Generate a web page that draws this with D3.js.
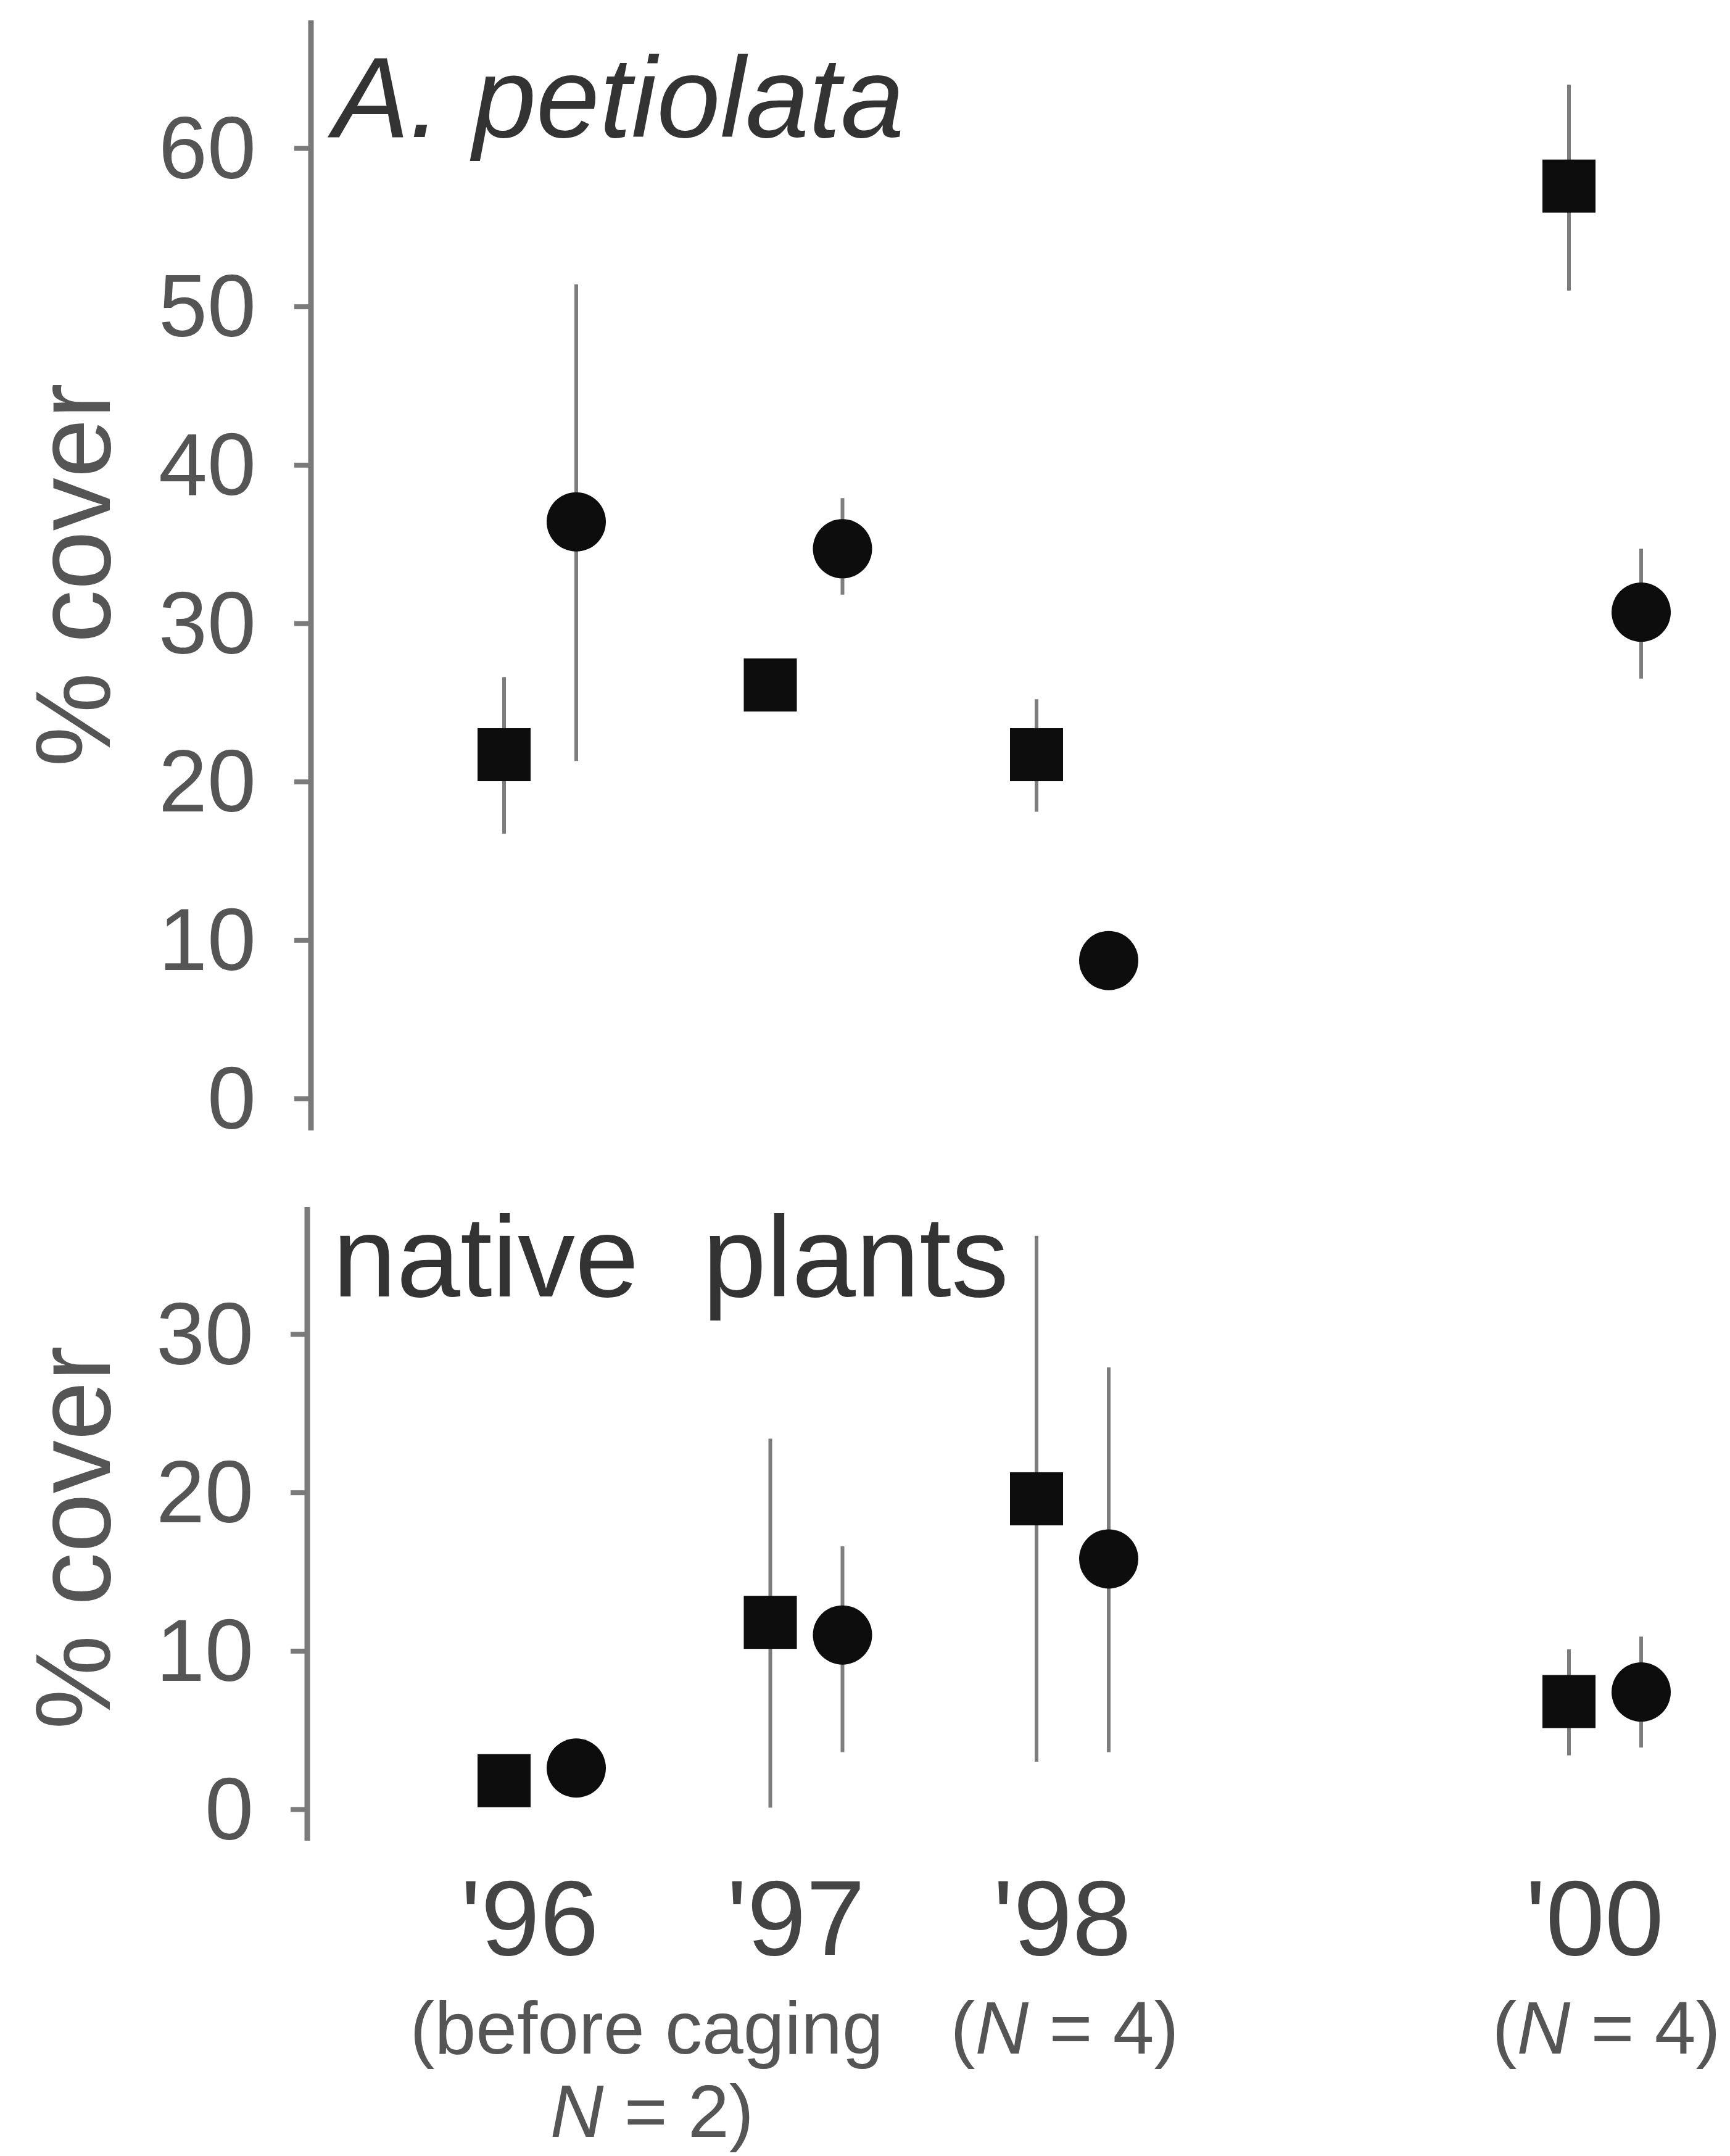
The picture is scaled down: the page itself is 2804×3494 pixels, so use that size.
<!DOCTYPE html>
<html>
<head>
<meta charset="utf-8">
<script src="https://cdn.jsdelivr.net/npm/d3@7"></script>
<style>
  html, body { margin: 0; padding: 0; background: #ffffff; }
  svg { display: block; }
  text { font-family: "Liberation Sans", Arial, Helvetica, sans-serif; }
</style>
</head>
<body>
<div id="chart"></div>
<script>
// ---------------- data ----------------
const years = [1996, 1997, 1998, 2000];
const yearLabels = ["'96", "'97", "'98", "'00"];

// A. petiolata (% cover) – squares and circles, with error-bar bounds
const petSquareMean = [21.7, 26.1, 21.7, 57.6];
const petSquareLo   = [16.7, 26.1, 18.1, 51.0];
const petSquareHi   = [26.6, 26.1, 25.2, 64.0];
const petCircleMean = [36.4, 34.7, 8.7, 30.7];
const petCircleLo   = [21.3, 31.8, 8.7, 26.5];
const petCircleHi   = [51.4, 37.9, 8.7, 34.7];

// native plants (% cover)
const natSquareMean = [1.8, 11.8, 19.6, 6.8];
const natSquareLo   = [1.8, 0.1, 3.0, 3.4];
const natSquareHi   = [1.8, 23.4, 36.2, 10.1];
const natCircleMean = [2.6, 11.0, 15.8, 7.4];
const natCircleLo   = [2.6, 3.6, 3.6, 3.9];
const natCircleHi   = [2.6, 16.6, 27.9, 10.9];

const petTicks = [0, 10, 20, 30, 40, 50, 60];
const natTicks = [0, 10, 20, 30];

// ---------------- layout ----------------
const W = 2804, H = 3494;
const svg = d3.select("#chart").append("svg")
  .attr("width", W).attr("height", H)
  .attr("viewBox", `0 0 ${W} ${H}`);
svg.append("rect").attr("width", W).attr("height", H).attr("fill", "#ffffff");

const x = d3.scaleLinear().domain([1996, 2000]).range([875.5, 2601.5]);
const pairOffset = 58.5;

const axisColor = "#7a7a7a";
const labelColor = "#555555";
const markColor = "#0d0d0d";
const errColor = "#7d7d7d";

function panel(cfg) {
  const y = d3.scaleLinear().domain(cfg.domain).range(cfg.range);
  const g = svg.append("g");

  // axis line (extends beyond data domain, as in original)
  g.append("line")
    .attr("x1", cfg.axisX).attr("x2", cfg.axisX)
    .attr("y1", cfg.axisTop).attr("y2", cfg.axisBottom)
    .attr("stroke", axisColor).attr("stroke-width", 9);

  const axis = d3.axisLeft(y).tickValues(cfg.ticks).tickSize(27).tickSizeOuter(0).tickPadding(cfg.pad)
    .tickFormat(d3.format("d"));
  const ag = g.append("g").attr("transform", `translate(${cfg.axisX},0)`).call(axis);
  ag.select(".domain").remove();
  ag.selectAll(".tick line").attr("stroke", axisColor).attr("stroke-width", 8);
  ag.selectAll(".tick text")
    .attr("fill", labelColor)
    .attr("font-size", 142)
    .attr("dy", "0.34em")
    .style("font-family", '"Liberation Sans", Arial, sans-serif');

  // y label
  g.append("text")
    .attr("transform", `translate(${cfg.ylabX},${cfg.ylabY}) rotate(-90)`)
    .attr("text-anchor", "middle")
    .attr("font-size", 172)
    .attr("fill", labelColor)
    .text("% cover");

  // panel title
  const t = g.append("text")
    .attr("x", cfg.titleX).attr("y", cfg.titleY)
    .attr("font-size", cfg.titleSize)
    .attr("fill", "#333333")
    .style("white-space", "pre")
    .text(cfg.title);
  if (cfg.italic) t.attr("font-style", "italic");

  // data
  const sq = years.map((yr, i) => ({ yr, m: cfg.sqMean[i], lo: cfg.sqLo[i], hi: cfg.sqHi[i] }));
  const ci = years.map((yr, i) => ({ yr, m: cfg.ciMean[i], lo: cfg.ciLo[i], hi: cfg.ciHi[i] }));

  // error bars
  g.selectAll(".errsq").data(sq).enter().append("line")
    .attr("x1", d => x(d.yr) - pairOffset).attr("x2", d => x(d.yr) - pairOffset)
    .attr("y1", d => y(d.lo)).attr("y2", d => y(d.hi))
    .attr("stroke", errColor).attr("stroke-width", 6);
  g.selectAll(".errci").data(ci).enter().append("line")
    .attr("x1", d => x(d.yr) + pairOffset).attr("x2", d => x(d.yr) + pairOffset)
    .attr("y1", d => y(d.lo)).attr("y2", d => y(d.hi))
    .attr("stroke", errColor).attr("stroke-width", 6);

  // markers
  const s = 86;
  g.selectAll(".sq").data(sq).enter().append("rect")
    .attr("x", d => x(d.yr) - pairOffset - s / 2)
    .attr("y", d => y(d.m) - s / 2)
    .attr("width", s).attr("height", s)
    .attr("fill", markColor);
  g.selectAll(".ci").data(ci).enter().append("circle")
    .attr("cx", d => x(d.yr) + pairOffset)
    .attr("cy", d => y(d.m))
    .attr("r", 48)
    .attr("fill", markColor);
}

panel({
  domain: [0, 60], range: [1780, 240], ticks: petTicks,
  axisX: 504, axisTop: 33, axisBottom: 1832, pad: 62,
  ylabX: 178, ylabY: 932,
  title: "A. petiolata", titleX: 540, titleY: 222, titleSize: 185, italic: true,
  sqMean: petSquareMean, sqLo: petSquareLo, sqHi: petSquareHi,
  ciMean: petCircleMean, ciLo: petCircleLo, ciHi: petCircleHi
});

panel({
  domain: [0, 30], range: [2932, 2162], ticks: natTicks,
  axisX: 498, axisTop: 1956, axisBottom: 2983, pad: 60,
  ylabX: 178, ylabY: 2492,
  title: "native  plants", titleX: 539, titleY: 2101, titleSize: 186, italic: false,
  sqMean: natSquareMean, sqLo: natSquareLo, sqHi: natSquareHi,
  ciMean: natCircleMean, ciLo: natCircleLo, ciHi: natCircleHi
});

// x labels (years)
svg.selectAll(".yr").data(years).enter().append("text")
  .attr("x", d => x(d) - 17)
  .attr("y", 3168)
  .attr("text-anchor", "middle")
  .attr("font-size", 172)
  .attr("fill", "#444444")
  .text((d, i) => yearLabels[i]);

// sample-size annotations
const sub = svg.append("g").attr("font-size", 120).attr("fill", labelColor).attr("text-anchor", "middle");
function subLabel(cx, cy, parts) {
  const t = sub.append("text").attr("x", cx).attr("y", cy).style("white-space", "pre");
  parts.forEach(p => {
    const ts = t.append("tspan").text(p.t);
    if (p.i) ts.attr("font-style", "italic");
  });
}
subLabel(x(1996.4), 3328, [{ t: "(before caging" }]);
subLabel(x(1996.42), 3463, [{ t: "N", i: true }, { t: " = 2)" }]);
subLabel(x(1998) - 13, 3328, [{ t: "(" }, { t: "N", i: true }, { t: " = 4)" }]);
subLabel(x(2000) + 2, 3328, [{ t: "(" }, { t: "N", i: true }, { t: " = 4)" }]);
</script>
</body>
</html>
